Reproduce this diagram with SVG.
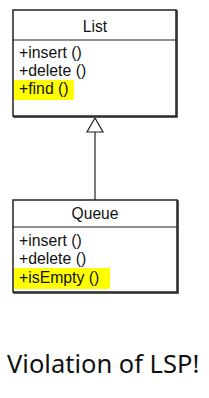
<svg xmlns="http://www.w3.org/2000/svg" width="209" height="398" viewBox="0 0 209 398">
<style>
.box{fill:#fff;stroke:#222;stroke-width:1.5}
.shadow{fill:none;stroke:#222;stroke-width:1.5}
.div{stroke:#222;stroke-width:1.2}
.t{font-family:"Liberation Sans",Arial,sans-serif;font-size:15.8px;fill:#111}
.title{font-family:"Liberation Sans",Arial,sans-serif;font-size:15.6px;fill:#111}
.hl{fill:#ffff00}
.big{font-family:"Noto Sans","Open Sans",sans-serif;font-size:25.5px;fill:#111}
</style>
<rect width="209" height="398" fill="#fff"/>
<g id="connectors">
<line x1="95" y1="132" x2="95" y2="200" stroke="#222" stroke-width="1.2"/>
<polygon points="95,118 87,132 103,132" fill="#fff" stroke="#222" stroke-width="1.2"/>
</g>
<g id="List">
<rect class="shadow" x="14" y="11" width="163" height="106"/>
<rect class="box" x="13" y="10" width="163" height="106"/>
<line class="div" x1="13" y1="40" x2="176" y2="40"/>
<text class="title" x="95" y="32" text-anchor="middle">List</text>
<rect class="hl" x="14" y="80" width="60" height="20"/>
<text class="t" x="19" y="58">+insert ()</text>
<text class="t" x="19" y="76">+delete ()</text>
<text class="t" x="19" y="94">+find ()</text>
</g>
<g id="Queue">
<rect class="shadow" x="14" y="201" width="164" height="92"/>
<rect class="box" x="13" y="200" width="164" height="92"/>
<line class="div" x1="13" y1="227" x2="177" y2="227"/>
<text class="title" x="95" y="219" text-anchor="middle">Queue</text>
<rect class="hl" x="14" y="268" width="96" height="21"/>
<text class="t" x="19" y="246">+insert ()</text>
<text class="t" x="19" y="264">+delete ()</text>
<text class="t" x="19" y="283">+isEmpty ()</text>
</g>
<text class="big" x="7" y="373">Violation of LSP!</text>
</svg>
